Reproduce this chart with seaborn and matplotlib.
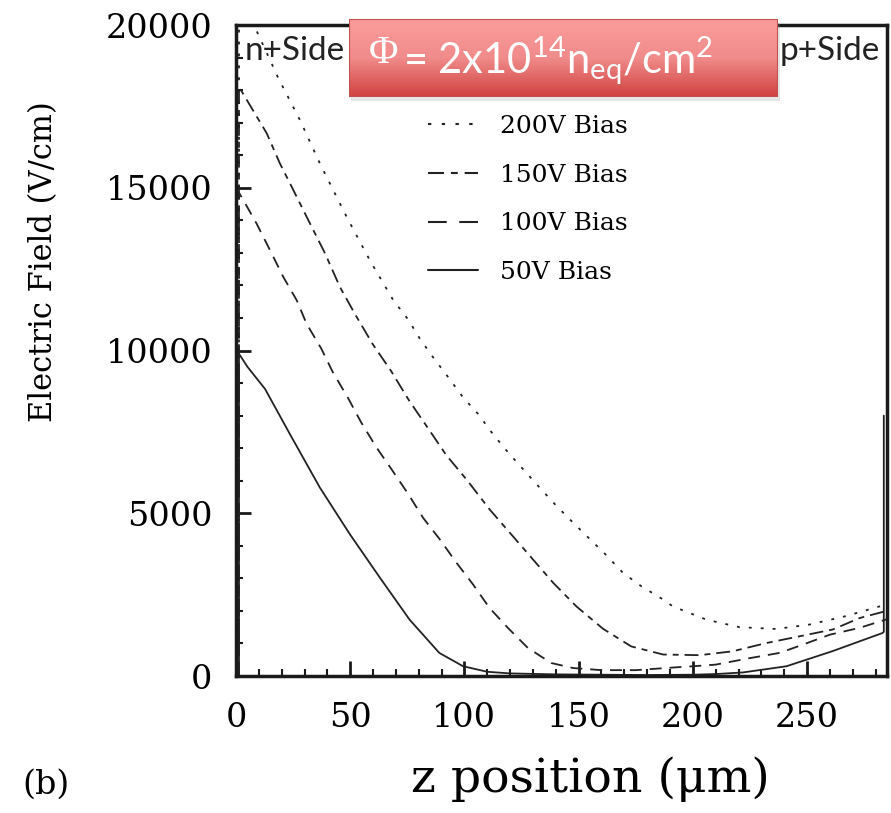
import numpy as np
import seaborn as sns
import matplotlib.pyplot as plt
from matplotlib.colors import LinearSegmentedColormap
from matplotlib.patches import Rectangle
from matplotlib.lines import Line2D
from matplotlib.ticker import MultipleLocator

sns.set_theme(style="white")
plt.rcParams['font.family'] = ['DejaVu Serif']
plt.rcParams['mathtext.fontset'] = 'custom'
plt.rcParams['mathtext.rm'] = 'Lato'
plt.rcParams['mathtext.it'] = 'Lato'
plt.rcParams['mathtext.bf'] = 'Lato:bold'
for key in ['text.color', 'axes.labelcolor', 'xtick.color', 'ytick.color']:
    plt.rcParams[key] = 'black'

# field profiles (z in um, E in V/cm)
z_200 = [1.3, 1.3, 9.8, 18.5, 28, 36.7, 48.4, 58.6, 68.8, 75.4, 80.5, 86.3, 92.9, 99.4, 106, 112.5,
         119.1, 125.6, 132.9, 140.3, 147.6, 155, 162, 169.4, 177.4, 187, 191.2, 206, 220.5, 236.5,
         251, 267, 284.8]
e_200 = [0, 21000, 19700, 18370, 17080, 15750, 14110, 12770, 11550, 10950, 10360, 9790, 9180, 8560,
         8050, 7430, 6870, 6360, 5790, 5225, 4710, 4200, 3720, 3170, 2760, 2350, 2140, 1730, 1500,
         1445, 1580, 1840, 2200]

z_150 = [1.3, 1.3, 4.7, 13.4, 19.2, 25.8, 32.4, 39, 45.5, 52, 59.8, 67.8, 75.8, 83.8, 92, 101.4,
         111, 119.9, 129.4, 138.9, 149, 160.7, 173, 187, 203, 217.5, 232, 246.7, 261.3, 273, 284.8]
e_150 = [0, 18100, 17700, 16680, 15750, 14830, 13900, 12980, 11950, 11130, 10200, 9380, 8460, 7640,
         6790, 5995, 5120, 4400, 3630, 2860, 2140, 1450, 910, 660, 640, 760, 1010, 1220, 1430, 1780,
         2000]

z_100 = [1.3, 1.3, 3.2, 9, 14.9, 20.7, 26.6, 30.9, 37.4, 42.4, 48.9, 54.8, 61.5, 68, 75.4, 81.9,
         89.2, 96.5, 103.8, 111, 119, 127.8, 138, 147.5, 160, 175, 188, 200, 210, 225, 238, 248,
         260, 273, 284.8]
e_100 = [0, 14850, 14620, 13900, 13080, 12260, 11540, 10820, 10050, 9330, 8560, 7790, 7020, 6360,
         5590, 4860, 4200, 3480, 2810, 2090, 1480, 860, 400, 245, 180, 180, 245, 300, 350, 550, 710,
         960, 1270, 1480, 1740]

z_50 = [1.3, 1.3, 5, 12.7, 23.6, 36.7, 49.9, 63, 76, 89, 99.4, 110, 120, 140, 160, 180, 200, 210,
        222, 241, 261, 283, 283.6, 283.6]
e_50 = [0, 9900, 9500, 8820, 7430, 5790, 4350, 3020, 1730, 710, 300, 130, 80, 50, 40, 30, 40, 60,
        110, 300, 760, 1320, 1360, 8000]

labels = ["200V Bias", "150V Bias", "100V Bias", "50V Bias"]

line_color = '#222222'
styles = [(0, (1.6, 5.0)), (0, (7.7, 3.3, 3.3, 3.3)), (0, (6.6, 4.4)), '-']
legend_styles = [(0, (1.6, 5.0)), (0, (7.7, 3.3, 3.3, 3.3)), (0, (9.0, 6.0)), '-']

fig = plt.figure(figsize=(8.91, 8.13), dpi=100)
fig.patch.set_facecolor('white')
ax = fig.add_axes([0.2649, 0.1685, 0.7306, 0.8007])

for z, e, ls in zip([z_200, z_150, z_100, z_50], [e_200, e_150, e_100, e_50], styles):
    sns.lineplot(x=z, y=e, ax=ax, color=line_color, lw=1.3, linestyle=ls,
                 estimator=None, sort=False, legend=False)

ax.set_xlim(0, 285)
ax.set_ylim(0, 20000)
ax.set_xticks([0, 50, 100, 150, 200, 250])
ax.set_yticks([0, 5000, 10000, 15000, 20000])
ax.xaxis.set_minor_locator(MultipleLocator(10))
ax.yaxis.set_minor_locator(MultipleLocator(1000))
ax.tick_params(which='both', direction='in', bottom=True, left=True, top=False, right=False,
               color='#1a1a1a')
ax.tick_params(which='major', length=11, width=2)
ax.tick_params(which='minor', length=5, width=1.5)
ax.tick_params(axis='x', labelsize=24, pad=19)
ax.tick_params(axis='y', labelsize=24, pad=17)
for s in ax.spines.values():
    s.set_linewidth(2.5)
    s.set_color('#1a1a1a')

ax.set_xlabel('z position (μm)', fontsize=34)
ax.xaxis.set_label_coords(0.544, -0.158)
ax.xaxis.label.set_va('center')
ax.set_ylabel('Electric Field (V/cm)', fontsize=22)
ax.yaxis.set_label_coords(-0.296, 0.637)
ax.yaxis.label.set_va('center')

handles = [Line2D([], [], color=line_color, lw=1.5, linestyle=ls) for ls in legend_styles]
ax.legend(handles, labels, loc='upper left', bbox_to_anchor=(0.295, 0.862), frameon=False,
          fontsize=18, handlelength=2.0, handletextpad=0.88, labelspacing=1.03,
          borderpad=0, borderaxespad=0)

fig.text(46 / 891, 1 - 785 / 813, '(b)', fontsize=24, ha='center', va='center')

side_font = ['Lato', 'DejaVu Sans']
fig.text(245 / 891, 1 - 60 / 813, 'n+Side', family=side_font, fontsize=24, va='baseline',
         color='#222222')
fig.text(780 / 891, 1 - 60 / 813, 'p+Side', family=side_font, fontsize=24, va='baseline',
         color='#222222')

# red fluence box
bl, bb, bw, bh = 349 / 891, 1 - 97 / 813, 429 / 891, 78 / 813
fig.add_artist(Rectangle((bl + 0.002, bb - 0.005), bw, bh, transform=fig.transFigure,
                         facecolor='#999999', alpha=0.25, edgecolor='none', zorder=3))
box_ax = fig.add_axes([bl, bb, bw, bh], zorder=5)
grad = np.linspace(0, 1, 256).reshape(-1, 1)
cmap = LinearSegmentedColormap.from_list('box', ['#fc9d9c', '#f08c8b', '#d0423f'])
box_ax.imshow(grad, aspect='auto', cmap=cmap, extent=[0, 1, 0, 1], origin='upper')
box_ax.add_patch(Rectangle((0, 0), 1, 1, transform=box_ax.transAxes, fill=False,
                           edgecolor='#c0504d', lw=1.5))
box_ax.set_axis_off()
box_ax.text(369 / 891, 1 - 63 / 813, 'Φ', transform=fig.transFigure, family=['Liberation Serif'],
            fontsize=29, color='white', va='baseline', ha='left')
box_ax.text(403 / 891, 1 - 73 / 813, '= 2x10$^{14}$n$_{\\mathrm{eq}}$/cm$^{2}$',
            transform=fig.transFigure, family=side_font, fontsize=30, color='white',
            va='baseline', ha='left')

plt.savefig('out.png', dpi=100)
